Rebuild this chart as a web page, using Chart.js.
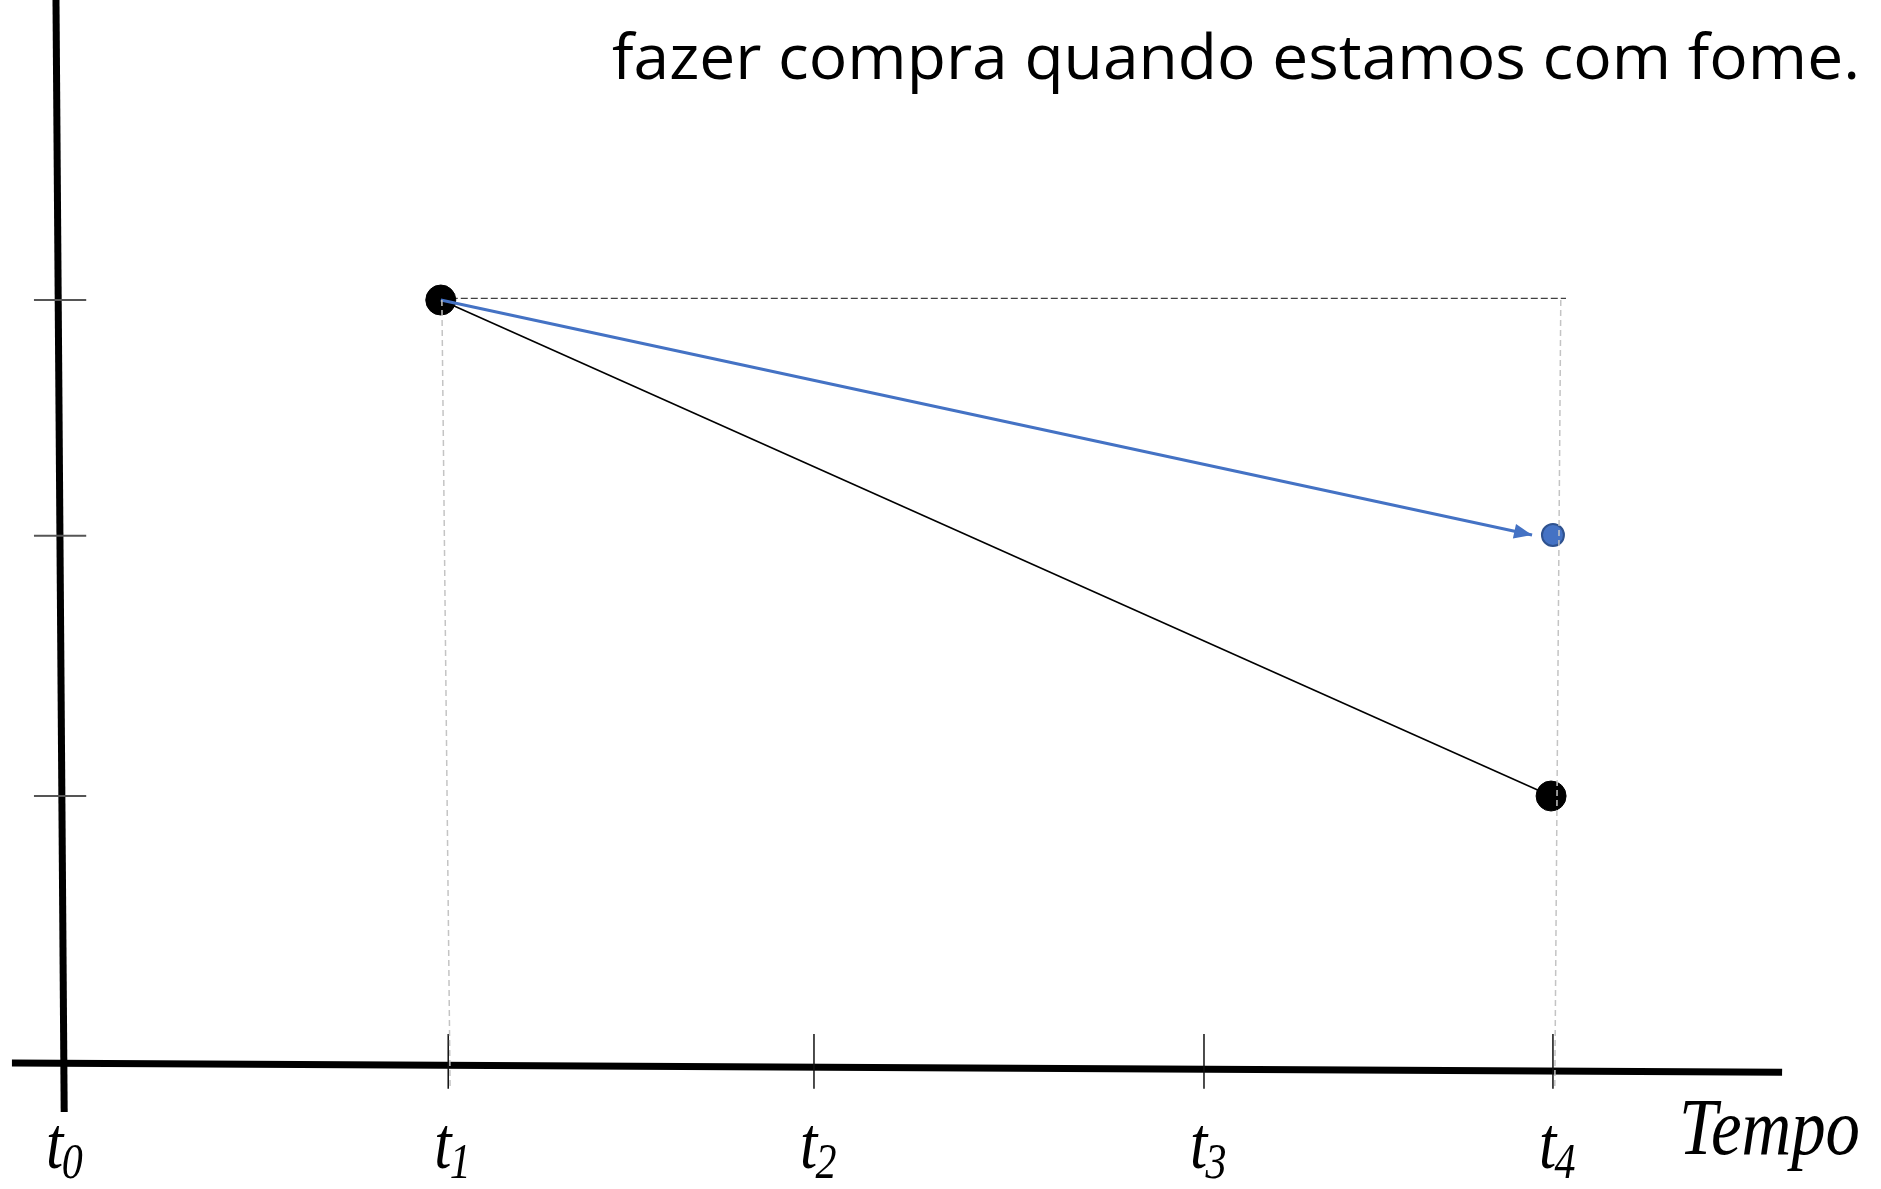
<!DOCTYPE html>
<html>
<head>
<meta charset="utf-8">
<script src="https://cdn.jsdelivr.net/npm/chart.js@4.4.0/dist/chart.umd.min.js"></script>
<style>
  html, body { margin: 0; padding: 0; background: #fff; }
  #wrap { width: 1881px; height: 1189px; }
</style>
</head>
<body>
<div id="wrap"><canvas id="chart" width="1881" height="1189"></canvas></div>
<script>
// ---- values ----
const timeSubs   = ['0', '1', '2', '3', '4'];       // t0 .. t4
const timeTicks  = [0, 1.04, 2.02, 3.065, 4];
const levelTicks = [1.0, 1.96, 2.83];
const xRange = [-0.161, 4.879];
const yRange = [-0.45, 3.937];

// hand drawn axes (a bit crooked in the original)
const yAxisLine = [{ x: -0.011, y: 3.94 }, { x: 0.011, y: -0.166 }];
const xAxisLine = [{ x: -0.129, y: 0.015 }, { x: 4.614, y: -0.019 }];
const xTickSpan = [-0.08, 0.122];
const yTickSpan = [-0.07, 0.07];

// marks
const realLine   = [{ x: 1.02, y: 2.83 }, { x: 3.995, y: 1.0 }];
const expectLine = [{ x: 1.02, y: 2.83 }, { x: 3.944, y: 1.963 }];
const expectDot  = [{ x: 4.0, y: 1.963 }];
const refLine    = [{ x: 1.02, y: 2.836 }, { x: 4.035, y: 2.836 }];
const guideT1    = [{ x: 1.023, y: 2.83 }, { x: 1.045, y: -0.07 }];
const guideT4    = [{ x: 4.021, y: 2.83 }, { x: 4.005, y: -0.07 }];

const titleText = 'fazer compra quando estamos com fome.';
const axisTitle = 'Tempo';

const BLUE = '#4472C4';

// axes, ticks, labels and the arrow head
const sketchPlugin = {
    id: 'sketch',
    beforeDatasetsDraw(chart) {
        const { ctx, scales: { x, y } } = chart;
        const seg = (a, b, w, color) => {
            ctx.beginPath();
            ctx.moveTo(x.getPixelForValue(a.x), y.getPixelForValue(a.y));
            ctx.lineTo(x.getPixelForValue(b.x), y.getPixelForValue(b.y));
            ctx.lineWidth = w;
            ctx.strokeStyle = color;
            ctx.stroke();
        };
        ctx.save();
        seg(yAxisLine[0], yAxisLine[1], 7, '#000');
        seg(xAxisLine[0], xAxisLine[1], 7, '#000');
        timeTicks.slice(1).forEach(t => {
            seg({ x: t, y: xTickSpan[0] }, { x: t, y: xTickSpan[1] }, 1.5, '#111');
        });
        levelTicks.forEach(v => {
            seg({ x: yTickSpan[0], y: v }, { x: yTickSpan[1], y: v }, 2, '#555');
        });
        ctx.restore();
    },
    afterDatasetsDraw(chart) {
        const { ctx } = chart;
        // arrow head on the blue line
        const meta = chart.getDatasetMeta(1);
        const p0 = meta.data[0], p1 = meta.data[1];
        const ang = Math.atan2(p1.y - p0.y, p1.x - p0.x);
        const len = 18, half = 7.5;
        ctx.save();
        ctx.translate(p1.x, p1.y);
        ctx.rotate(ang);
        ctx.beginPath();
        ctx.moveTo(0, 0);
        ctx.lineTo(-len, -half);
        ctx.lineTo(-len, half);
        ctx.closePath();
        ctx.fillStyle = BLUE;
        ctx.fill();
        ctx.restore();
    },
    afterDraw(chart) {
        const { ctx, scales: { x } } = chart;
        ctx.save();
        ctx.fillStyle = '#000';
        ctx.textBaseline = 'alphabetic';

        // title line (Calibri-like, fitted to width)
        ctx.font = '63px "Open Sans"';
        const w = ctx.measureText(titleText).width;
        ctx.save();
        ctx.translate(612, 79);
        ctx.scale(1248 / w, 1);
        ctx.fillText(titleText, 0, 0);
        ctx.restore();

        // t0..t4 labels
        const sx = 0.84;
        timeTicks.forEach((t, i) => {
            const cx = x.getPixelForValue(t) + 1;
            ctx.save();
            ctx.translate(cx - 15, 1168);
            ctx.scale(sx, 1);
            ctx.font = 'italic 74px "Liberation Serif"';
            ctx.fillText('t', 0, 0);
            const tw = ctx.measureText('t').width;
            ctx.font = 'italic 50px "Liberation Serif"';
            ctx.fillText(timeSubs[i], tw - 2, 10);
            ctx.restore();
        });

        // axis title
        ctx.save();
        ctx.translate(1860, 1154);
        ctx.scale(0.86, 1);
        ctx.font = 'italic 80px "Liberation Serif"';
        ctx.textAlign = 'right';
        ctx.fillText(axisTitle, 0, 0);
        ctx.restore();

        ctx.restore();
    }
};

const guideStyle = {
    showLine: true, pointRadius: 0, borderColor: '#c4c4c4',
    borderWidth: 1.5, borderDash: [6, 4], order: 0
};

new Chart(document.getElementById('chart'), {
    type: 'scatter',
    data: {
        datasets: [
            Object.assign({ label: 'guia t1', data: guideT1 }, guideStyle),
            {
                label: 'esperado', data: expectLine, showLine: true,
                pointRadius: 0, borderColor: BLUE, borderWidth: 3, order: 1
            },
            {
                label: 'ponto esperado', data: expectDot, showLine: false,
                pointRadius: 11, pointBackgroundColor: BLUE,
                pointBorderColor: '#2F528F', pointBorderWidth: 2, order: 2
            },
            {
                label: 'real', data: realLine, showLine: true,
                borderColor: '#000', borderWidth: 1.6,
                pointRadius: 15, pointBackgroundColor: '#000',
                pointBorderColor: '#000', pointBorderWidth: 1, order: 3
            },
            {
                label: 'referencia', data: refLine, showLine: true,
                pointRadius: 0, borderColor: '#404040', borderWidth: 1.3,
                borderDash: [7, 3], order: 4
            },
            Object.assign({ label: 'guia t4', data: guideT4 }, guideStyle)
        ]
    },
    options: {
        responsive: false,
        animation: false,
        devicePixelRatio: 1,
        layout: { padding: 0, autoPadding: false },
        plugins: { legend: { display: false }, tooltip: { enabled: false } },
        elements: { line: { tension: 0 } },
        scales: {
            x: { type: 'linear', min: xRange[0], max: xRange[1], display: false },
            y: { type: 'linear', min: yRange[0], max: yRange[1], display: false }
        }
    },
    plugins: [sketchPlugin]
});
</script>
</body>
</html>
